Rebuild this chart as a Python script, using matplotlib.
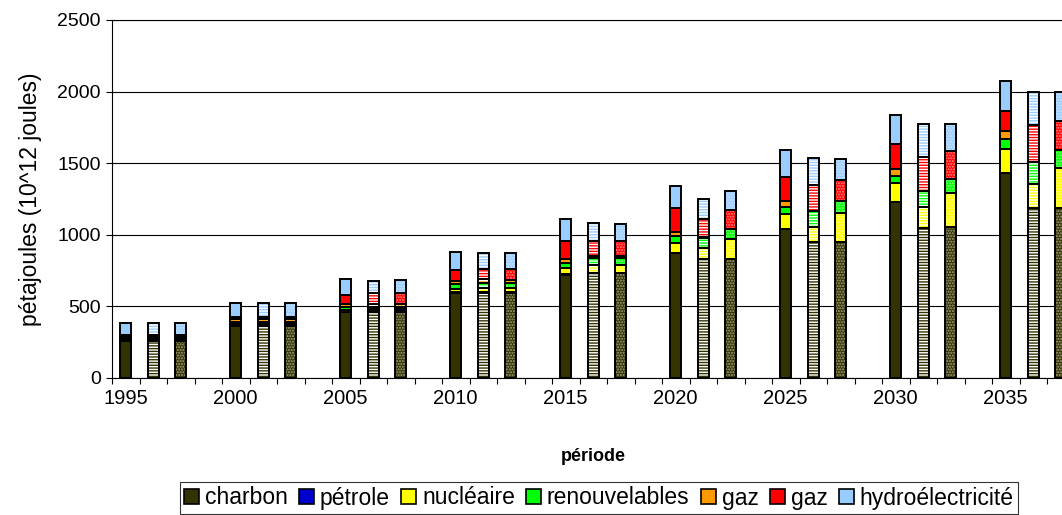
import matplotlib
matplotlib.use('Agg')
import matplotlib.pyplot as plt
from matplotlib.patches import Patch
from matplotlib.colors import to_rgb
import numpy as np

plt.rcParams['font.family'] = ['Liberation Sans', 'DejaVu Sans']
plt.rcParams['hatch.linewidth'] = 1.0

# périodes (une barre par scénario : plein, hachuré, pointillé)
periodes = ['1995', '2000', '2005', '2010', '2015', '2020', '2025', '2030', '2035']

sources = ['charbon', 'pétrole', 'nucléaire', 'renouvelables', 'gaz', 'gaz', 'hydroélectricité']
couleurs = ['#333300', '#0000CC', '#FFFF00', '#00FF00', '#FF9900', '#FF0000', '#99CCFF']

# pétajoules, une ligne par scénario
charbon = [
    [260, 363, 460, 591, 720, 872, 1039, 1227, 1434],
    [260, 363, 462, 591, 731, 833, 952, 1050, 1185],
    [260, 363, 462, 592, 731, 831, 951, 1052, 1185],
]
petrole = [
    [12, 14, 5, 10, 5, 3, 0, 0, 0],
    [12, 14, 5, 10, 5, 0, 0, 0, 0],
    [12, 14, 5, 10, 5, 0, 0, 0, 0],
]
nucleaire = [
    [0, 0, 12, 22, 45, 68, 104, 132, 167],
    [0, 0, 12, 25, 52, 75, 105, 141, 167],
    [0, 0, 12, 24, 50, 140, 198, 238, 279],
]
renouvelables = [
    [10, 14, 20, 30, 30, 47, 50, 49, 71],
    [10, 14, 20, 40, 52, 70, 111, 116, 158],
    [10, 14, 20, 40, 52, 72, 89, 97, 125],
]
gaz_orange = [
    [8, 20, 20, 22, 30, 28, 41, 50, 56],
    [8, 20, 18, 22, 15, 4, 0, 0, 0],
    [8, 20, 20, 18, 14, 0, 0, 0, 0],
]
gaz_rouge = [
    [10, 18, 63, 79, 130, 167, 173, 178, 135],
    [10, 18, 79, 75, 105, 129, 181, 238, 257],
    [10, 18, 72, 75, 107, 130, 148, 196, 209],
]
hydro = [
    [84, 95, 111, 128, 150, 158, 183, 200, 211],
    [84, 95, 84, 112, 120, 137, 185, 226, 232],
    [84, 95, 93, 112, 118, 135, 143, 188, 201],
]

series = [charbon, petrole, nucleaire, renouvelables, gaz_orange, gaz_rouge, hydro]


def pale(c, f=0.55):
    r, g, b = to_rgb(c)
    return (r + (1 - r) * f, g + (1 - g) * f, b + (1 - b) * f)


W, H = 1062, 515
fig = plt.figure(figsize=(W / 100, H / 100), dpi=100)
# 35 emplacements de 27.5 px, la zone de tracé déborde à droite
ax = fig.add_axes([112 / W, (H - 378) / H, 962.5 / W, 358 / H])

n = len(periodes)
x_base = np.arange(n) * 4
largeur = 0.4
lw = 1.4

for s in range(3):
    x = x_base + s
    bas = np.zeros(n)
    for vals, col in zip(series, couleurs):
        v = np.array(vals[s], dtype=float)
        if s == 0:
            ax.bar(x, v, largeur, bottom=bas, color=col, edgecolor='black',
                   linewidth=lw, zorder=3)
        else:
            if s == 1:
                ax.bar(x, v, largeur, bottom=bas, color='white', edgecolor=col,
                       hatch='------', linewidth=0, zorder=3)
            else:
                ax.bar(x, v, largeur, bottom=bas, color=col, edgecolor=pale(col),
                       hatch='......', linewidth=0, zorder=3)
            ax.bar(x, v, largeur, bottom=bas, fill=False, edgecolor='black',
                   linewidth=lw, zorder=4)
        bas += v

ax.set_xlim(-0.5, 34.5)
ax.set_ylim(0, 2500)
ax.set_yticks(np.arange(0, 2501, 500))
ax.yaxis.grid(True, color='black', linewidth=0.8)
ax.set_axisbelow(True)

ax.set_xticks(np.arange(-0.5, 35, 1))
ax.tick_params(axis='x', which='major', length=4, width=0.8, labelbottom=False, direction='out')
ax.set_xticks(x_base, minor=True)
ax.set_xticklabels(periodes, minor=True)
ax.tick_params(axis='x', which='minor', length=0, pad=8, labelsize=14.5)
ax.tick_params(axis='y', length=4, width=0.8, pad=4, labelsize=14, direction='out')

for side in ['left', 'bottom', 'top']:
    ax.spines[side].set_color('black')
    ax.spines[side].set_linewidth(0.8)
ax.spines['right'].set_visible(False)

ax.set_ylabel('pétajoules (10^12 joules)', fontsize=16.5)
ax.yaxis.set_label_coords((42 - 112) / 962.5, 0.5)
ax.set_xlabel('période', fontsize=13, fontweight='bold')
ax.xaxis.set_label_coords(0.5, (378 - 448) / 358)

handles = [Patch(facecolor=c, edgecolor='black', linewidth=1.2) for c in couleurs]
leg = fig.legend(handles, sources, loc='center', bbox_to_anchor=(599 / W, 1 - 498 / H),
                 ncol=7, fontsize=16.5, frameon=True, fancybox=False,
                 handlelength=0.65, handleheight=0.65, handletextpad=0.25,
                 columnspacing=0.5, borderpad=0.2, borderaxespad=0)
leg.get_frame().set_edgecolor('black')
leg.get_frame().set_linewidth(0.8)

fig.savefig('out.png', dpi=100)
